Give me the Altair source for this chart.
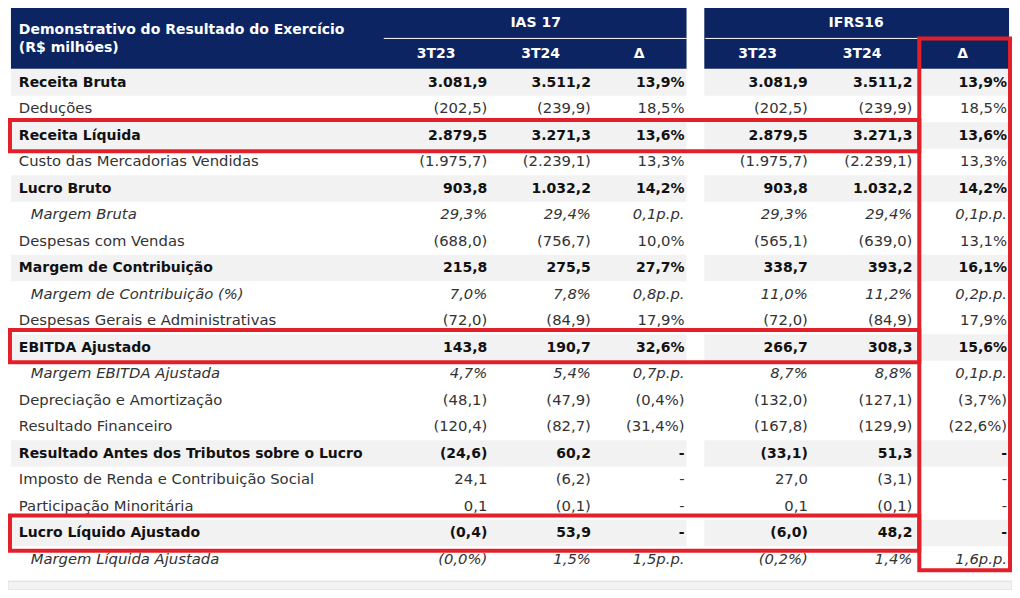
import altair as alt
import pandas as pd

# ---------------- data ----------------
title_lines = ["Demonstrativo do Resultado do Exercício", "(R$ milhões)"]
group_labels = ["IAS 17", "IFRS16"]
col_labels = ["3T23", "3T24", "Δ", "3T23", "3T24", "Δ"]

row_labels = [
    "Receita Bruta", "Deduções", "Receita Líquida", "Custo das Mercadorias Vendidas",
    "Lucro Bruto", "Margem Bruta", "Despesas com Vendas", "Margem de Contribuição",
    "Margem de Contribuição (%)", "Despesas Gerais e Administrativas", "EBITDA Ajustado",
    "Margem EBITDA Ajustada", "Depreciação e Amortização", "Resultado Financeiro",
    "Resultado Antes dos Tributos sobre o Lucro", "Imposto de Renda e Contribuição Social",
    "Participação Minoritária", "Lucro Líquido Ajustado", "Margem Líquida Ajustada",
]
row_styles = [
    "bold", "normal", "bold", "normal", "bold", "italic", "normal", "bold", "italic",
    "normal", "bold", "italic", "normal", "normal", "bold", "normal", "normal", "bold", "italic",
]
ias_3t23 = ["3.081,9", "(202,5)", "2.879,5", "(1.975,7)", "903,8", "29,3%", "(688,0)", "215,8",
            "7,0%", "(72,0)", "143,8", "4,7%", "(48,1)", "(120,4)", "(24,6)", "24,1", "0,1",
            "(0,4)", "(0,0%)"]
ias_3t24 = ["3.511,2", "(239,9)", "3.271,3", "(2.239,1)", "1.032,2", "29,4%", "(756,7)", "275,5",
            "7,8%", "(84,9)", "190,7", "5,4%", "(47,9)", "(82,7)", "60,2", "(6,2)", "(0,1)",
            "53,9", "1,5%"]
ias_delta = ["13,9%", "18,5%", "13,6%", "13,3%", "14,2%", "0,1p.p.", "10,0%", "27,7%",
             "0,8p.p.", "17,9%", "32,6%", "0,7p.p.", "(0,4%)", "(31,4%)", "-", "-", "-",
             "-", "1,5p.p."]
ifrs_3t23 = ["3.081,9", "(202,5)", "2.879,5", "(1.975,7)", "903,8", "29,3%", "(565,1)", "338,7",
             "11,0%", "(72,0)", "266,7", "8,7%", "(132,0)", "(167,8)", "(33,1)", "27,0", "0,1",
             "(6,0)", "(0,2%)"]
ifrs_3t24 = ["3.511,2", "(239,9)", "3.271,3", "(2.239,1)", "1.032,2", "29,4%", "(639,0)", "393,2",
             "11,2%", "(84,9)", "308,3", "8,8%", "(127,1)", "(129,9)", "51,3", "(3,1)", "(0,1)",
             "48,2", "1,4%"]
ifrs_delta = ["13,9%", "18,5%", "13,6%", "13,3%", "14,2%", "0,1p.p.", "13,1%", "16,1%",
              "0,2p.p.", "17,9%", "15,6%", "0,1p.p.", "(3,7%)", "(22,6%)", "-", "-", "-",
              "-", "1,6p.p."]
highlight_rows = ["Receita Líquida", "EBITDA Ajustado", "Lucro Líquido Ajustado"]

# ---------------- layout (reference pixel space) ----------------
ROW0, ROW_H = 81, 27
COL_RIGHT = [488, 593, 688, 813, 919, 1015]
COL_CENTER = [436, 542, 642, 762, 868, 970]
GROUP_CENTER = [537, 862]
BLOCKS = [(5, 690), (708, 1017)]
GROUP_SPAN = [(383, 690), (709, 1017)]
NAVY = "#0c2461"
RED = "#e3202a"
FONT = "DejaVu Sans"

XS = alt.Scale(domain=[2, 1020], nice=False, zero=False)
YS = alt.Scale(domain=[598, 5], nice=False, zero=False)


def enc(**kw):
    out = {}
    for ch, f in kw.items():
        if ch in ("x", "x2"):
            out[ch] = alt.X(f, scale=XS, axis=None) if ch == "x" else alt.X2(f)
        else:
            out[ch] = alt.Y(f, scale=YS, axis=None) if ch == "y" else alt.Y2(f)
    return out


row_y = [ROW0 + i * ROW_H for i in range(len(row_labels))]
columns = [ias_3t23, ias_3t24, ias_delta, ifrs_3t23, ifrs_3t24, ifrs_delta]

# header blocks
hdr = pd.DataFrame([{"x": a, "x2": b, "y": 5, "y2": 67} for a, b in BLOCKS])
hdr_layer = alt.Chart(hdr).mark_rect(color=NAVY).encode(**enc(x="x:Q", x2="x2", y="y:Q", y2="y2"))

sep = pd.DataFrame([{"x": a, "x2": b, "y": 36} for a, b in GROUP_SPAN])
sep_layer = alt.Chart(sep).mark_rule(color="white", strokeWidth=1).encode(
    **enc(x="x:Q", x2="x2", y="y:Q"))

# bold row backgrounds
bg_rows = []
for lab, sty, y in zip(row_labels, row_styles, row_y):
    if sty == "bold":
        for a, b in BLOCKS:
            bg_rows.append({"x": a, "x2": b, "y": y - ROW_H / 2, "y2": y + ROW_H / 2})
bg_layer = alt.Chart(pd.DataFrame(bg_rows)).mark_rect(color="#f2f2f2").encode(
    **enc(x="x:Q", x2="x2", y="y:Q", y2="y2"))

# bottom band
band = pd.DataFrame([{"x": 2, "x2": 1020, "y": 589, "y2": 598}])
band_layer = alt.Chart(band).mark_rect(color="#f3f3f3", stroke="#dddddd", strokeWidth=1).encode(
    **enc(x="x:Q", x2="x2", y="y:Q", y2="y2"))

# header texts
ht = [{"t": title_lines[0], "x": 13, "y": 27, "a": "left"},
      {"t": title_lines[1], "x": 13, "y": 46, "a": "left"}]
for g, cx in zip(group_labels, GROUP_CENTER):
    ht.append({"t": g, "x": cx, "y": 20, "a": "center"})
for c, cx in zip(col_labels, COL_CENTER):
    ht.append({"t": c, "x": cx, "y": 52, "a": "center"})
htdf = pd.DataFrame(ht)
hdr_text = []
for al in ("left", "center"):
    hdr_text.append(
        alt.Chart(htdf[htdf.a == al]).mark_text(
            font=FONT, fontSize=14, fontWeight="bold", color="white", align=al, baseline="middle"
        ).encode(text="t:N", **enc(x="x:Q", y="y:Q"))
    )

# body texts
cells = []
for i, (lab, sty, y) in enumerate(zip(row_labels, row_styles, row_y)):
    cells.append({"t": lab, "x": 25 if sty == "italic" else 13, "y": y, "s": sty, "a": "left"})
    for c, xr in zip(columns, COL_RIGHT):
        cells.append({"t": c[i], "x": xr, "y": y, "s": sty, "a": "right"})
cdf = pd.DataFrame(cells)
style_props = {
    "bold": dict(fontWeight="bold", fontStyle="normal", color="#111111", fontSize=14),
    "normal": dict(fontWeight="normal", fontStyle="normal", color="#333333", fontSize=14.8),
    "italic": dict(fontWeight="normal", fontStyle="italic", color="#333333", fontSize=14.8),
}
body_text = []
for sty, props in style_props.items():
    for al in ("left", "right"):
        sub = cdf[(cdf.s == sty) & (cdf.a == al)]
        body_text.append(
            alt.Chart(sub).mark_text(font=FONT, align=al, baseline="middle", **props)
            .encode(text="t:N", **enc(x="x:Q", y="y:Q"))
        )

# red highlight boxes
boxes = [{"x": 926, "x2": 1018, "y": 36, "y2": 578}]
box_pad = {"Receita Líquida": (119, 151), "EBITDA Ajustado": (333, 366),
           "Lucro Líquido Ajustado": (522, 558)}
for lab in highlight_rows:
    y0, y1 = box_pad[lab]
    boxes.append({"x": 4, "x2": 926, "y": y0, "y2": y1})
box_layer = alt.Chart(pd.DataFrame(boxes)).mark_rect(
    fill=None, fillOpacity=0, stroke=RED, strokeWidth=4
).encode(**enc(x="x:Q", x2="x2", y="y:Q", y2="y2"))

chart = alt.layer(
    band_layer, hdr_layer, sep_layer, bg_layer, *hdr_text, *body_text, box_layer
).properties(
    width=1004, height=582, padding=0, autosize=alt.AutoSizeParams(type="none")
).configure_view(stroke=None)

chart.save("out.html", embed_options={"renderer": "svg", "actions": False})
